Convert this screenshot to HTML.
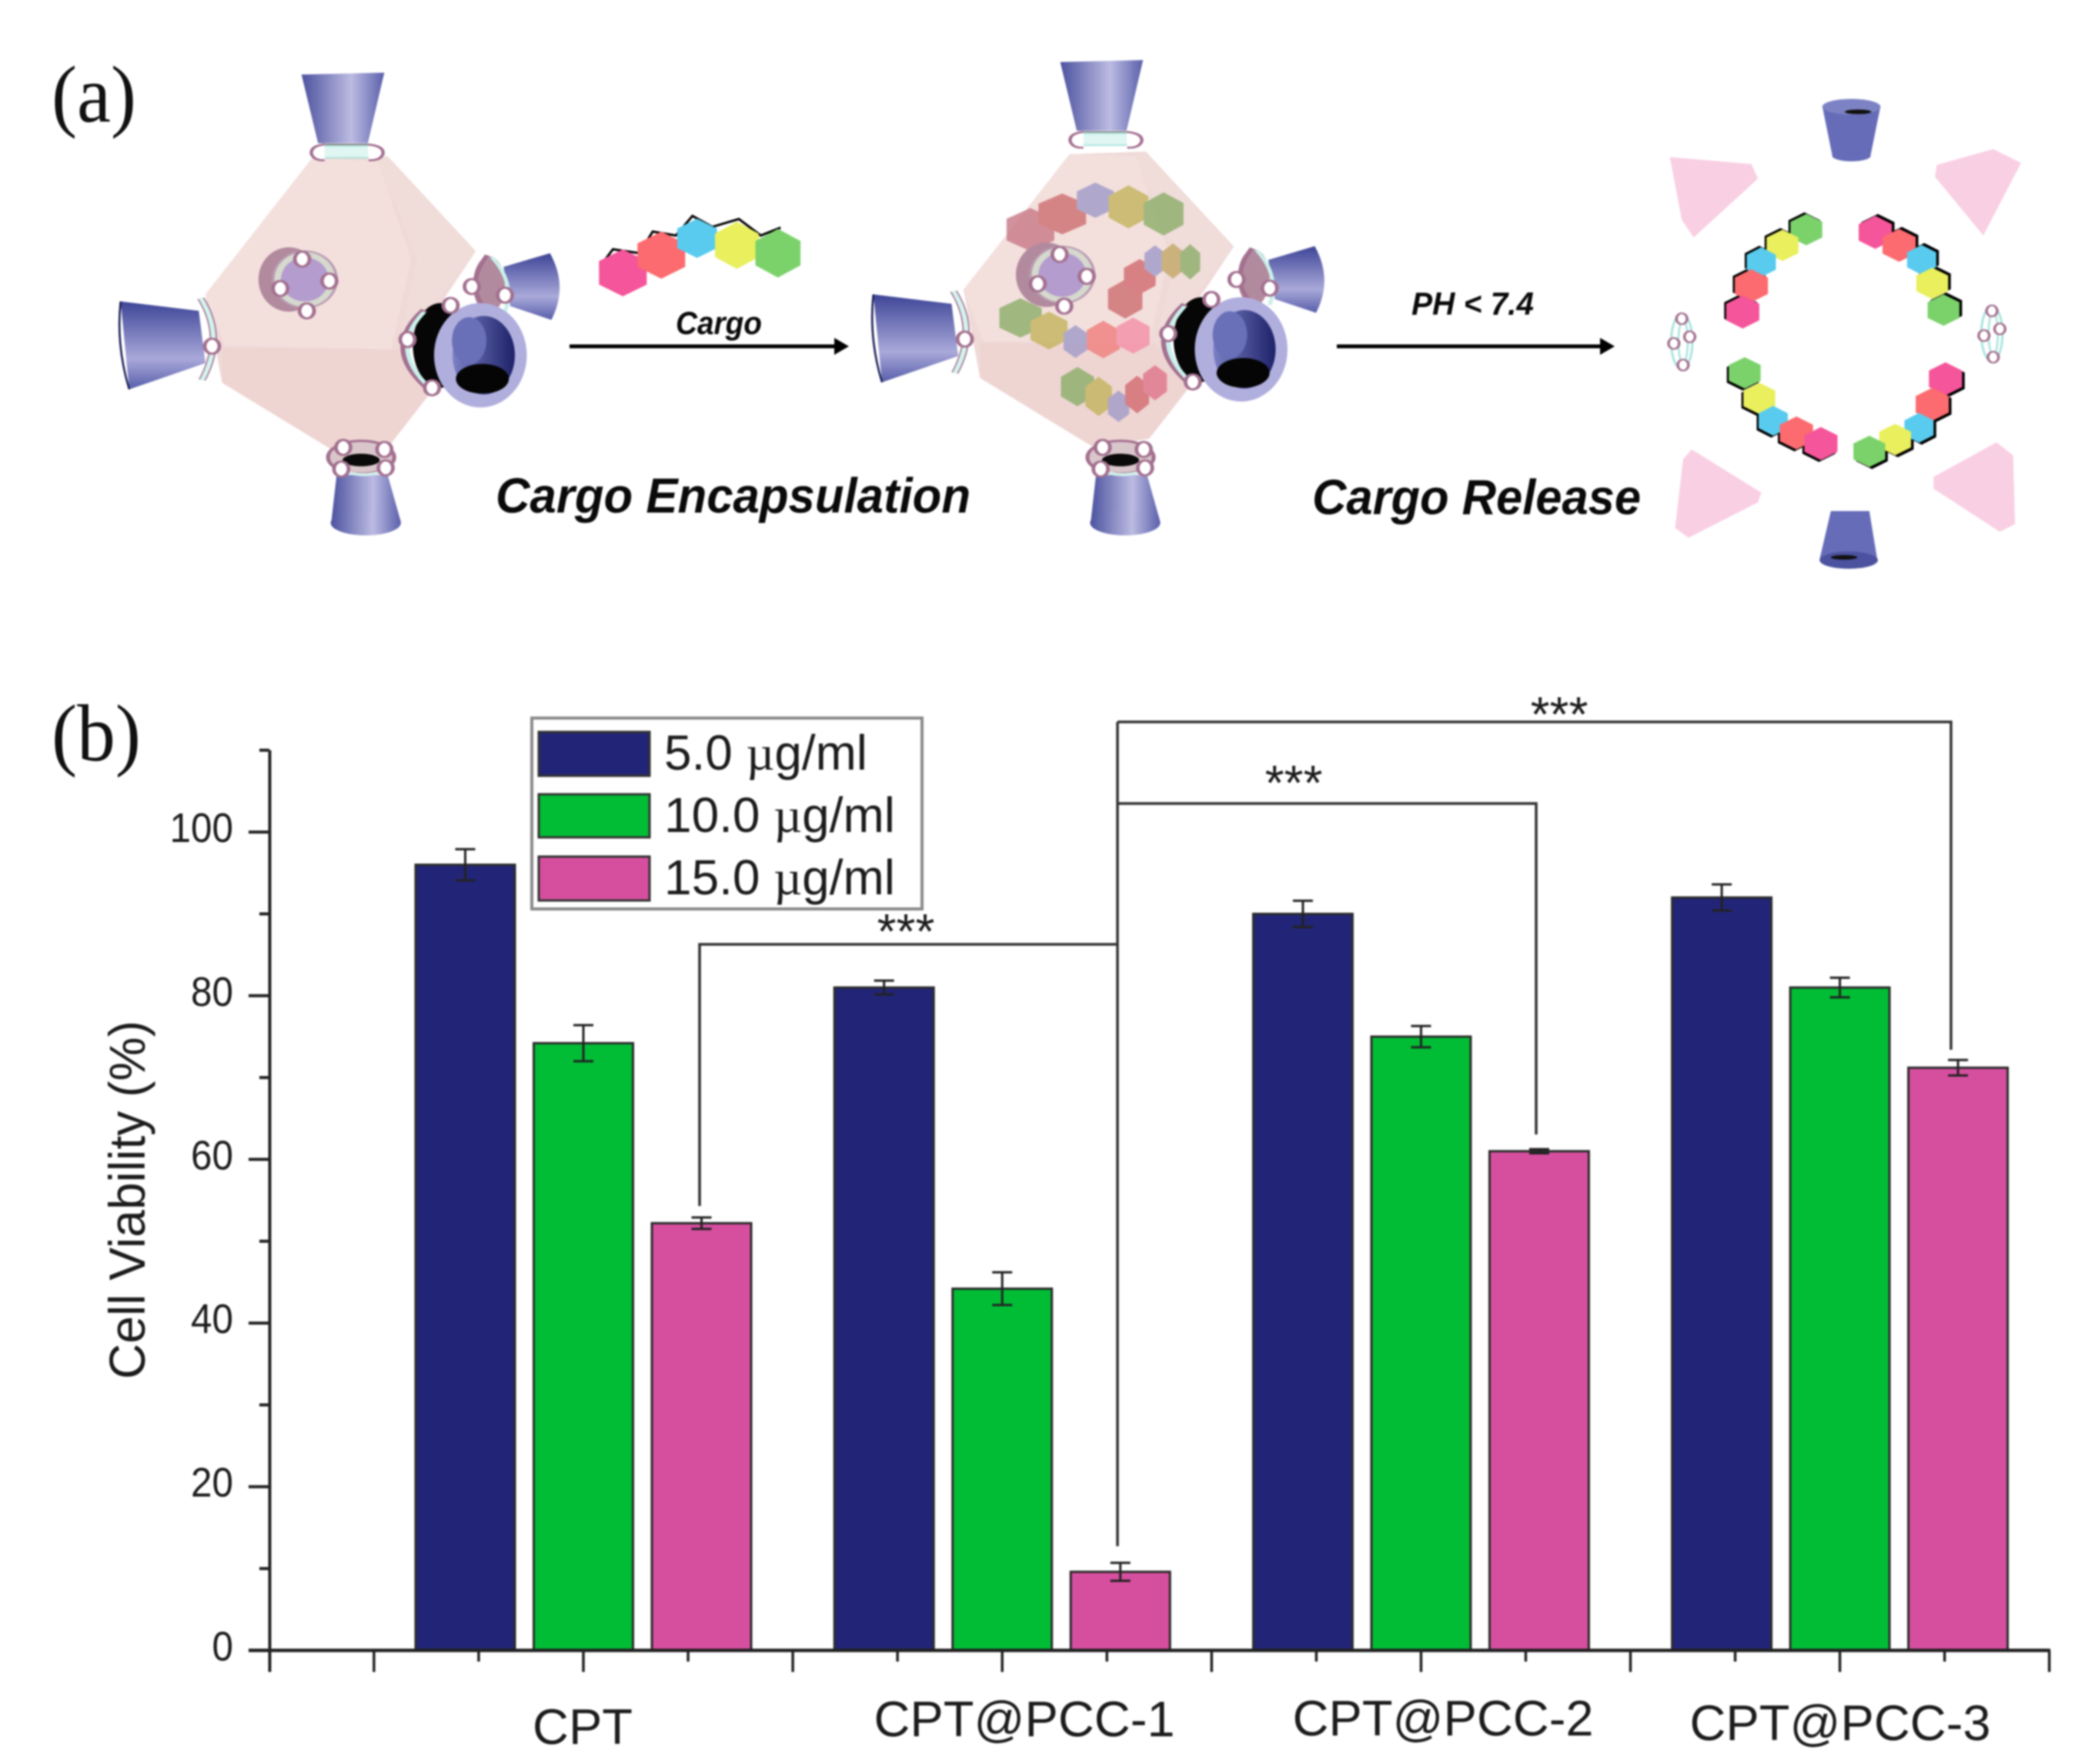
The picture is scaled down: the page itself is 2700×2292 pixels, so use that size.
<!DOCTYPE html>
<html><head><meta charset="utf-8"><title>Cargo encapsulation and cell viability</title>
<style>
html,body{margin:0;padding:0;background:#fff;width:2700px;height:2292px;overflow:hidden}
svg{display:block;filter:blur(1px)}
.ill *{vector-effect:non-scaling-stroke}
text{font-family:"Liberation Sans",sans-serif;fill:#1c1c1c}
.it{font-weight:bold;font-style:italic;fill:#0a0a0a}
.sf{font-family:"Liberation Serif",serif;fill:#111}
</style></head><body>
<svg id="fig" xmlns="http://www.w3.org/2000/svg" width="2700" height="2292" viewBox="0 0 2700 2292">
<defs>
<linearGradient id="gH"><stop offset="0" stop-color="#4c529f"/><stop offset=".6" stop-color="#bcbbe2"/><stop offset="1" stop-color="#5a60ab"/></linearGradient>
<linearGradient id="gV" x2="0" y2="1"><stop offset="0" stop-color="#3e4597"/><stop offset=".65" stop-color="#a9a9da"/><stop offset="1" stop-color="#585eaa"/></linearGradient>
<linearGradient id="gN" x1="0" x2="1"><stop offset="0" stop-color="#7b80c4"/><stop offset="1" stop-color="#1d2168"/></linearGradient>
<polygon id="hex" points="0,-1 1,-.5 1,.5 0,1 -1,.5 -1,-.5"/>
<ellipse id="dot" rx="11" ry="19" fill="#fff" stroke="#a3708f" stroke-width="5.5"/>
<g id="body">
<polygon points="470,405 585,398 718,640 615,900 650,1000 590,1130 505,1150 335,975 310,750" fill="#efdad8"/>
<polygon points="470,405 570,410 620,660 590,890 340,880 310,750" fill="#f3e0dd"/>
<polygon points="570,410 585,398 718,640 600,890 630,660" fill="#f0dcd9"/>
<polygon points="335,885 600,890 650,1000 590,1130 505,1150 335,975" fill="#eed5d2"/>
</g>
<g id="topF">
<polygon points="455,190 580,185 555,365 480,365" fill="url(#gH)"/>
<rect x="480" y="372" width="85" height="30" rx="12" fill="#dff6f2" stroke="#9fe0d8" stroke-width="3"/>
<line x1="485" y1="368" x2="560" y2="368" stroke="#222" stroke-width="2"/>
<path d="M490,368 Q468,372 470,392 Q474,410 490,408" fill="#fff" stroke="#a3708f" stroke-width="5"/>
<path d="M555,368 Q580,372 578,392 Q574,410 556,408" fill="#fff" stroke="#a3708f" stroke-width="5"/>
</g>
<g id="leftF">
<polygon points="182,768 300,792 310,925 195,992" fill="url(#gV)"/>
<path d="M182,768 Q175,880 195,992" fill="none" stroke="#1a1d55" stroke-width="3"/>
<path d="M303,760 Q340,860 305,968" fill="none" stroke="#a3708f" stroke-width="11"/>
<path d="M303,760 Q340,860 305,968" fill="none" stroke="#d2f4ee" stroke-width="7"/>
<use href="#dot" x="320" y="882"/>
</g>
<g id="backF">
<path d="M760,680 L830,645 Q858,730 832,815 L770,780 Z" fill="url(#gV)"/>
<ellipse cx="738" cy="725" rx="24" ry="72" fill="#b28a9e"/>
<path d="M735,650 Q695,740 745,805" fill="none" stroke="#a3708f" stroke-width="7"/>
<path d="M742,655 Q778,720 762,795" fill="none" stroke="#c9f0ea" stroke-width="6"/>
<use href="#dot" x="712" y="730"/><use href="#dot" x="762" y="752"/>
</g>
<g id="frontF">
<ellipse cx="665" cy="880" rx="42" ry="108" fill="#060606"/>
<path d="M640,790 Q575,890 650,995" fill="none" stroke="#a3708f" stroke-width="11"/>
<path d="M640,795 Q585,890 650,990" fill="none" stroke="#c9f0ea" stroke-width="7"/>
<ellipse cx="725" cy="905" rx="70" ry="133" fill="#b0aedd"/>
<ellipse cx="730" cy="905" rx="47" ry="100" fill="url(#gN)"/>
<ellipse cx="708" cy="868" rx="26" ry="60" fill="#6a70b8"/>
<ellipse cx="728" cy="965" rx="40" ry="38" fill="#050505"/>
<use href="#dot" x="615" y="865"/><use href="#dot" x="652" y="988"/><use href="#dot" x="680" y="778"/>
</g>
<g id="bottomF">
<polygon points="508,1210 585,1210 605,1330 500,1330" fill="url(#gH)"/>
<ellipse cx="552" cy="1332" rx="53" ry="32" fill="url(#gH)"/>
<ellipse cx="545" cy="1165" rx="50" ry="42" fill="#d9c6cb" stroke="#a3708f" stroke-width="6"/>
<ellipse cx="545" cy="1172" rx="28" ry="16" fill="#0a0a0a"/>
<path d="M510,1195 Q550,1225 590,1192" fill="none" stroke="#d2f4ee" stroke-width="7"/>
<use href="#dot" x="518" y="1140"/><use href="#dot" x="580" y="1145"/><use href="#dot" x="515" y="1195"/><use href="#dot" x="582" y="1192"/>
</g>
<g id="centerRing">
<ellipse cx="436" cy="712" rx="46" ry="82" fill="#b28a9e"/>
<ellipse cx="460" cy="712" rx="48" ry="72" fill="#d6d9ce" stroke="#b99ab0" stroke-width="4"/>
<ellipse cx="460" cy="712" rx="36" ry="56" fill="#b49ccf"/>
<use href="#dot" x="456" y="660"/><use href="#dot" x="497" y="716"/><use href="#dot" x="463" y="792"/><use href="#dot" x="423" y="735"/>
</g>
<g id="chainTL"><use href="#hex" fill="#7bd26b" transform="translate(1158,585) scale(24,40)"/><use href="#hex" fill="#e9ef5d" transform="translate(1122,625) scale(24,40)"/><use href="#hex" fill="#58cbee" transform="translate(1090,668) scale(22,38)"/><use href="#hex" fill="#fb6b6f" transform="translate(1075,728) scale(25,42)"/><use href="#hex" fill="#f5559a" transform="translate(1062,795) scale(25,42)"/></g>
<g id="chainTR"><use href="#hex" fill="#f5559a" transform="translate(1262,592) scale(25,42)"/><use href="#hex" fill="#fb6b6f" transform="translate(1298,625) scale(25,42)"/><use href="#hex" fill="#58cbee" transform="translate(1332,662) scale(22,38)"/><use href="#hex" fill="#e9ef5d" transform="translate(1348,722) scale(24,40)"/><use href="#hex" fill="#7bd26b" transform="translate(1365,790) scale(24,40)"/></g>
<g id="chainBL"><use href="#hex" fill="#7bd26b" transform="translate(1065,950) scale(24,40)"/><use href="#hex" fill="#e9ef5d" transform="translate(1087,1015) scale(24,40)"/><use href="#hex" fill="#58cbee" transform="translate(1108,1072) scale(22,38)"/><use href="#hex" fill="#fb6b6f" transform="translate(1143,1103) scale(25,42)"/><use href="#hex" fill="#f5559a" transform="translate(1180,1130) scale(25,42)"/></g>
<g id="chainBR"><use href="#hex" fill="#f5559a" transform="translate(1368,965) scale(25,42)"/><use href="#hex" fill="#fb6b6f" transform="translate(1348,1030) scale(25,42)"/><use href="#hex" fill="#58cbee" transform="translate(1328,1090) scale(22,38)"/><use href="#hex" fill="#e9ef5d" transform="translate(1292,1120) scale(24,40)"/><use href="#hex" fill="#7bd26b" transform="translate(1253,1150) scale(24,40)"/></g>
<g id="smallRing">
<ellipse cx="0" cy="0" rx="16" ry="70" fill="#fff" stroke="#a9e4dd" stroke-width="3.5"/>
<ellipse cx="2" cy="0" rx="7" ry="55" fill="#fff" stroke="#a9e4dd" stroke-width="3"/>
<ellipse cx="12" cy="-12" rx="8" ry="14" fill="#fff" stroke="#a3708f" stroke-width="4"/>
<ellipse cx="-12" cy="5" rx="8" ry="14" fill="#fff" stroke="#a3708f" stroke-width="4"/>
<ellipse cx="2" cy="60" rx="8" ry="14" fill="#fff" stroke="#a3708f" stroke-width="4"/>
<ellipse cx="0" cy="-58" rx="8" ry="14" fill="#fff" stroke="#a3708f" stroke-width="4"/>
</g>
</defs>

<g id="panel-a" class="ill">
<text class="sf" x="67" y="158" font-size="105" textLength="110" lengthAdjust="spacingAndGlyphs">(a)</text>
<g transform="scale(.861,.51)">
<use href="#body"/><use href="#centerRing"/><use href="#backF"/><use href="#leftF"/><use href="#topF"/><use href="#bottomF"/><use href="#frontF"/>
</g>
<g transform="scale(.861,.51)">
<polyline points="905,680 925,635 965,645 985,590 1020,600 1045,550 1075,578 1115,558 1148,600 1178,580" fill="none" stroke="#000" stroke-width="3"/>
<use href="#hex" fill="#f5559a" transform="translate(940,695) scale(36,60)"/>
<use href="#hex" fill="#fb6b6f" transform="translate(998,650) scale(36,60)"/>
<use href="#hex" fill="#58cbee" transform="translate(1052,607) scale(30,50)"/>
<use href="#hex" fill="#e9ef5d" transform="translate(1112,625) scale(33,60)"/>
<use href="#hex" fill="#7bd26b" transform="translate(1174,645) scale(34,62)"/>
</g>
<text class="it" x="878" y="434" font-size="42" textLength="112" lengthAdjust="spacingAndGlyphs">Cargo</text>
<g><line x1="740" y1="450" x2="1090" y2="450" stroke="#000" stroke-width="5"/><polygon points="1084,439 1103,450 1084,461" fill="#000"/></g>
<text class="it" x="644" y="666" font-size="64" textLength="617" lengthAdjust="spacingAndGlyphs">Cargo Encapsulation</text>

<g transform="scale(.861,.51)">
<use href="#body" transform="translate(1144,-12)"/>
<g transform="translate(1568,0)" opacity=".82">
<use href="#hex" fill="#c87a88" transform="translate(-13,585) scale(36,55)"/>
<use href="#hex" fill="#cf6f72" transform="translate(35,545) scale(36,52)"/>
<use href="#hex" fill="#a19cc8" transform="translate(85,510) scale(28,45)"/>
<use href="#hex" fill="#c4b45f" transform="translate(135,527) scale(30,55)"/>
<use href="#hex" fill="#8eae6c" transform="translate(188,545) scale(30,55)"/>
<use href="#hex" fill="#cf6f72" transform="translate(130,762) scale(26,50)"/>
<use href="#hex" fill="#d26c72" transform="translate(152,705) scale(24,45)"/>
<use href="#hex" fill="#a19cc8" transform="translate(175,665) scale(16,40)"/>
<use href="#hex" fill="#c4a868" transform="translate(202,665) scale(17,45)"/>
<use href="#hex" fill="#8eae6c" transform="translate(228,667) scale(15,45)"/>
<use href="#hex" fill="#8eae6c" transform="translate(-28,810) scale(32,50)"/>
<use href="#hex" fill="#c4b45f" transform="translate(15,842) scale(28,48)"/>
<use href="#hex" fill="#a19cc8" transform="translate(55,870) scale(18,42)"/>
<use href="#hex" fill="#f07f7f" transform="translate(97,865) scale(25,48)"/>
<use href="#hex" fill="#f58fa8" transform="translate(142,855) scale(25,46)"/>
<use href="#hex" fill="#8eae6c" transform="translate(58,985) scale(25,50)"/>
<use href="#hex" fill="#c4b45f" transform="translate(90,1010) scale(20,50)"/>
<use href="#hex" fill="#a19cc8" transform="translate(120,1035) scale(16,40)"/>
<use href="#hex" fill="#d26c72" transform="translate(148,1005) scale(18,48)"/>
<use href="#hex" fill="#e0768c" transform="translate(175,975) scale(18,45)"/>
</g>
<use href="#centerRing" transform="translate(1143,-12)"/>
<use href="#backF" transform="translate(1154,-18)"/>
<use href="#leftF" transform="translate(1136,-18)"/>
<use href="#topF" transform="translate(1145,-32)"/>
<use href="#bottomF" transform="translate(1146,0)"/>
<use href="#frontF" transform="translate(1148,-15)"/>
</g>
<text class="it" x="1834" y="409" font-size="42" textLength="159" lengthAdjust="spacingAndGlyphs">PH &lt; 7.4</text>
<g><line x1="1737" y1="450" x2="2085" y2="450" stroke="#000" stroke-width="5"/><polygon points="2079,439 2098,450 2079,461" fill="#000"/></g>
<text class="it" x="1705" y="668" font-size="64" textLength="427" lengthAdjust="spacingAndGlyphs">Cargo Release</text>

<g transform="translate(1350,0) scale(.861,.51)">
<g fill="#f9cfe3">
<polygon points="952,400 1075,418 1085,455 988,605 970,560"/>
<polygon points="1440,380 1482,415 1425,600 1352,450 1355,420"/>
<polygon points="985,1145 1090,1255 1085,1280 980,1370 960,1345 972,1170"/>
<polygon points="1445,1127 1470,1160 1473,1335 1450,1355 1350,1245 1350,1215"/>
</g>
<g>
<polygon points="1182,270 1270,270 1255,395 1197,395" fill="#666cb8"/>
<ellipse cx="1226" cy="397" rx="29" ry="14" fill="#666cb8"/>
<ellipse cx="1226" cy="272" rx="44" ry="20" fill="#7d82c4"/>
<ellipse cx="1236" cy="285" rx="20" ry="6" fill="#111"/>
</g>
<g>
<polygon points="1195,1302 1253,1302 1265,1425 1178,1425" fill="#666cb8"/>
<ellipse cx="1222" cy="1427" rx="44" ry="22" fill="#4c529f"/>
<ellipse cx="1215" cy="1420" rx="20" ry="6" fill="#111"/>
</g>
<use href="#smallRing" transform="translate(970,870)"/>
<use href="#smallRing" transform="translate(1438,850)"/>
<g>
<use href="#chainTL" style="filter:brightness(0)" transform="translate(-3,-4)"/><use href="#chainTL"/>
<use href="#chainTR" style="filter:brightness(0)" transform="translate(4,-5)"/><use href="#chainTR"/>
<use href="#chainBL" style="filter:brightness(0)" transform="translate(-3,5)"/><use href="#chainBL"/>
<use href="#chainBR" style="filter:brightness(0)" transform="translate(4,5)"/><use href="#chainBR"/>
</g>
</g>
</g>

<g id="panel-b">
<text class="sf" x="67" y="988" font-size="105" textLength="116" lengthAdjust="spacingAndGlyphs">(b)</text>
<text transform="translate(188,1792) rotate(-90)" font-size="66" textLength="466" lengthAdjust="spacingAndGlyphs">Cell Viability (%)</text>
<g id="legend">
<rect x="691" y="933" width="507" height="248" fill="#fff" stroke="#8a8a8a" stroke-width="4"/>
<rect x="700" y="951" width="144" height="57" fill="#222577" stroke="#333" stroke-width="3"/>
<rect x="700" y="1032" width="144" height="56" fill="#01bd35" stroke="#333" stroke-width="3"/>
<rect x="700" y="1113" width="144" height="57" fill="#d64f9f" stroke="#333" stroke-width="3"/>
<text x="863" y="1000" font-size="64" textLength="264" lengthAdjust="spacingAndGlyphs">5.0 <tspan font-family="Liberation Serif">µ</tspan>g/ml</text>
<text x="863" y="1081" font-size="64" textLength="300" lengthAdjust="spacingAndGlyphs">10.0 <tspan font-family="Liberation Serif">µ</tspan>g/ml</text>
<text x="863" y="1162" font-size="64" textLength="300" lengthAdjust="spacingAndGlyphs">15.0 <tspan font-family="Liberation Serif">µ</tspan>g/ml</text>
</g>
<g id="brackets" fill="none" stroke="#333" stroke-width="3.5">
<polyline points="909,1567 909,1227 1452,1227"/>
<line x1="1452" y1="938" x2="1452" y2="2009"/>
<polyline points="1452,938 2535,938 2535,1364"/>
<polyline points="1452,1044 1996,1044 1996,1474"/>
</g>
<text x="1177" y="1232" font-size="64" text-anchor="middle" fill="#333">***</text>
<text x="1681" y="1039" font-size="64" text-anchor="middle" fill="#333">***</text>
<text x="2026" y="950" font-size="64" text-anchor="middle" fill="#333">***</text>
<g id="plot"></g>
</g>
</svg>
<script>
const categories = ['CPT', 'CPT@PCC-1', 'CPT@PCC-2', 'CPT@PCC-3'];
const doseLabels = ['5.0', '10.0', '15.0'];
const values5 = [96, 81, 90, 92];
const values10 = [74.2, 44.2, 75, 81];
const values15 = [52.2, 9.6, 61, 71.2];
const errors5 = [1.9, 0.85, 1.6, 1.6];
const errors10 = [2.2, 2, 1.3, 1.2];
const errors15 = [0.7, 1.1, 0.25, 0.95];
const yMajorTicks = [0, 20, 40, 60, 80, 100];
const yMinorTicks = [10, 30, 50, 70, 90, 110];
const seriesColors = ['#222577', '#01bd35', '#d64f9f'];

const yScale = v => 2144.4 - v * 10.633;
const xScale = i => 758 + i * 544.2;
const offsetScale = s => (s - 1) * 153.5;
const catBaseline = [2266, 2256, 2255, 2261];
const BAR_W = 129;
const plot = document.getElementById('plot');
const NS = 'http://www.w3.org/2000/svg';
function mk(tag, attrs, parent) {
  const el = document.createElementNS(NS, tag);
  for (const k in attrs) el.setAttribute(k, attrs[k]);
  (parent || plot).appendChild(el);
  return el;
}
[values5, values10, values15].forEach((vals, s) => {
  vals.forEach((v, i) => {
    const cx = xScale(i) + offsetScale(s);
    const errs = [errors5, errors10, errors15][s];
    const bar = mk('rect', {x: cx - BAR_W / 2, y: yScale(v), width: BAR_W, height: yScale(0) - yScale(v), fill: seriesColors[s], stroke: '#2b2b2b', 'stroke-width': 3});
    
    
    const hi = yScale(v + errs[i]), lo = yScale(v - errs[i]);
    const eb = mk('path', {d: `M${cx},${hi}V${lo}M${cx - 13},${hi}h26M${cx - 13},${lo}h26`, fill: 'none', stroke: '#222', 'stroke-width': 3});
    
    
  });
});
const yAxis = mk('line', {x1: 350.5, x2: 350.5, y1: yScale(110), y2: yScale(0) + 28, stroke: '#222', 'stroke-width': 4});


const xAxis = mk('line', {x1: 323, x2: 2664, y1: yScale(0), y2: yScale(0), stroke: '#222', 'stroke-width': 4.5});


yMajorTicks.forEach(t => {
  const tk = mk('line', {x1: 323, x2: 350, y1: yScale(t), y2: yScale(t), stroke: '#222', 'stroke-width': 4});
  
  
  const lb = mk('text', {x: 303, y: yScale(t) + 13, 'font-size': 54, 'text-anchor': 'end', textLength: String(t).length * 27.5, lengthAdjust: 'spacingAndGlyphs'});
  lb.textContent = t;
  
  
});
yMinorTicks.forEach(t => {
  const tk = mk('line', {x1: 337, x2: 350, y1: yScale(t), y2: yScale(t), stroke: '#222', 'stroke-width': 4});
  
  
});
for (let k = -1; k <= 7; k++) {
  const x = xScale(k / 2);
  const major = mk('line', {x1: x, x2: x, y1: yScale(0), y2: yScale(0) + 28, stroke: '#222', 'stroke-width': 3.5});
  
  
  if (k < 7) {
    const xm = xScale((k + 0.5) / 2);
    const minor = mk('line', {x1: xm, x2: xm, y1: yScale(0), y2: yScale(0) + 14.5, stroke: '#222', 'stroke-width': 3.5});
    
    
  }
}
categories.forEach((c, i) => {
  const lb = mk('text', {x: [757, 1331, 1875, 2391][i], y: catBaseline[i], 'font-size': 65, 'text-anchor': 'middle'});
  lb.textContent = c;
  
  
});
</script>
</body></html>
